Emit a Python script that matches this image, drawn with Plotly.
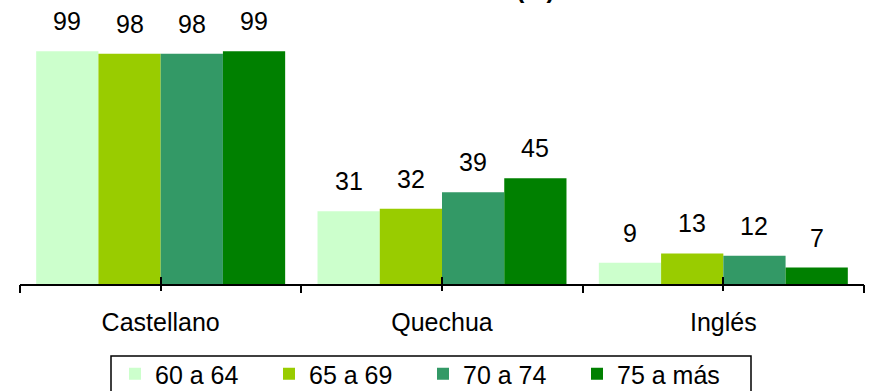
import plotly.graph_objects as go

categories = ["Castellano", "Quechua", "Inglés"]
series_names = ["60 a 64", "65 a 69", "70 a 74", "75 a más"]
v_60_64 = [99, 31, 9]
v_65_69 = [98, 32, 13]
v_70_74 = [98, 39, 12]
v_75_mas = [99, 45, 7]
colors = ["#CCFFCC", "#99CC00", "#339966", "#008000"]

series_values = [v_60_64, v_65_69, v_70_74, v_75_mas]

FONT = "Liberation Sans, Arial, sans-serif"
FS = 25
bargap = 0.115
W, H = 871, 391
ML, MR, MT, MB = 20, 7, 49, 107

fig = go.Figure()
for name, vals, col in zip(series_names, series_values, colors):
    fig.add_trace(go.Bar(x=categories, y=vals, name=name, marker=dict(color=col, line=dict(width=0))))

ncat = len(categories)
center_idx = list(range(ncat))
boundary_idx = [k - 0.5 for k in range(ncat + 1)]
# invisible helper traces so the overlay tick axes are drawn
for ax in ["x2", "x3"]:
    fig.add_trace(go.Scatter(x=center_idx, y=[0] * ncat, xaxis=ax, yaxis="y",
                             mode="markers", marker=dict(opacity=0, size=1),
                             showlegend=False, hoverinfo="skip"))

# value labels above the bars
n = len(series_names)
gw = 1 - bargap
annotations = []
for i, vals in enumerate(series_values):
    off = -gw / 2 + (i + 0.5) * gw / n
    for j, v in enumerate(vals):
        annotations.append(dict(x=j + off, y=v, xref="x", yref="y", text=str(v), showarrow=False,
                                yanchor="bottom", yshift=14, font=dict(size=FS, color="black", family=FONT)))

# partially visible title
annotations.append(dict(x=(535 - ML) / (W - ML - MR), xref="paper", y=1, yref="paper", text="<b>(%)</b>",
                        showarrow=False, xanchor="center", yanchor="bottom", yshift=44,
                        font=dict(size=FS, color="black", family=FONT)))

pw, ph = W - ML - MR, H - MT - MB
def px_x(p):
    return (p - ML) / pw
def px_y(p):
    return (H - MB - p) / ph

fig.update_layout(
    width=W, height=H,
    margin=dict(l=ML, r=MR, t=MT, b=MB, autoexpand=False),
    paper_bgcolor="white", plot_bgcolor="white",
    barmode="group", bargap=bargap, bargroupgap=0,
    font=dict(family=FONT, size=FS, color="black"),
    showlegend=True,
    legend=dict(orientation="h", xref="container", yref="container",
                x=115 / W, y=(H - 351) / H, xanchor="left", yanchor="top",
                borderwidth=0, bgcolor="rgba(0,0,0,0)",
                font=dict(size=FS, family=FONT, color="black"),
                entrywidth=109, entrywidthmode="pixels", traceorder="normal"),
    xaxis=dict(type="category", categoryorder="array", categoryarray=categories,
               range=[-0.5, ncat - 0.5], automargin=False,
               showline=True, linecolor="black", linewidth=2, layer="above traces",
               ticks="inside", ticklen=7, tickwidth=2, tickcolor="black",
               showgrid=False, zeroline=False,
               tickfont=dict(size=FS, family=FONT, color="black"), ticklabelstandoff=15),
    xaxis2=dict(overlaying="x", anchor="y", side="bottom", type="linear", automargin=False,
                range=[-0.5, ncat - 0.5], tickmode="array", tickvals=center_idx,
                showticklabels=False, showline=False, showgrid=False, zeroline=False,
                ticks="outside", ticklen=6, tickwidth=2, tickcolor="black"),
    xaxis3=dict(overlaying="x", anchor="y", side="bottom", type="linear", automargin=False,
                range=[-0.5, ncat - 0.5], tickmode="array", tickvals=boundary_idx,
                showticklabels=False, showline=False, showgrid=False, zeroline=False,
                ticks="outside", ticklen=8, tickwidth=2, tickcolor="black"),
    yaxis=dict(range=[0, 100], visible=False, showgrid=False, zeroline=False, automargin=False),
    annotations=annotations,
    shapes=[dict(type="rect", xref="paper", yref="paper",
                 x0=px_x(111), x1=px_x(751), y0=px_y(400), y1=px_y(356),
                 line=dict(color="black", width=1.5), fillcolor="rgba(0,0,0,0)", layer="below")],
)

fig.write_html("out.html", config={"displayModeBar": False},
               post_script="document.body.style.margin='0';document.body.style.overflow='hidden';")
